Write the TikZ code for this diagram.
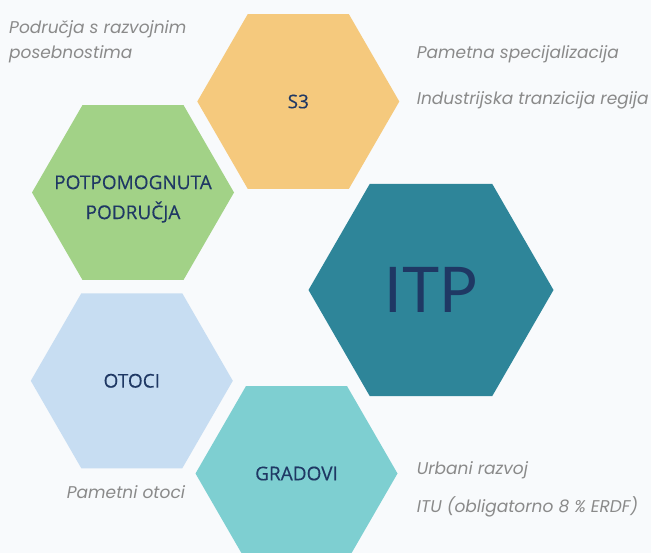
\documentclass[tikz,border=0pt]{standalone}
\usepackage{fontspec}
\setmainfont{Open Sans}
\newfontfamily\hexfont{Open Sans}[FakeBold=0.3]
\newfontfamily\notefont{Poppins}
\newfontfamily\itpfont{Lato}
\usetikzlibrary{shapes.geometric}
\definecolor{bgc}{HTML}{F8FAFC}
\definecolor{navy}{HTML}{1F3864}
\definecolor{greyc}{HTML}{8A8A8A}
\definecolor{s3c}{HTML}{F5C97D}
\definecolor{potc}{HTML}{A2D287}
\definecolor{itpc}{HTML}{2E8599}
\definecolor{otoc}{HTML}{C7DDF2}
\definecolor{gradc}{HTML}{7ECFD1}
\tikzset{
  hexa/.style ={regular polygon,regular polygon sides=6,inner sep=0pt,outer sep=0pt,
                minimum size=202pt,text=navy,align=center,
                font=\hexfont\fontsize{19}{30}\selectfont},
  hexlab/.style={inner sep=0pt,text=navy,align=center,font=\hexfont\fontsize{19}{30}\selectfont},
  note/.style ={anchor=base west,inner sep=0pt,text=greyc,align=left,
                font=\notefont\itshape\fontsize{17}{25}\selectfont},
}
\begin{document}
\begin{tikzpicture}[x=1pt,y=-1pt]
  \fill[bgc] (0,0) rectangle (651,553);
  \clip (0,0) rectangle (651,553);
  \node[hexa,fill=s3c]   (s3)   at (298.3,101.5) {S3};
  \node[hexa,fill=potc]  (pot)  at (133,192.5)   {};
  \node[hexlab] (potl) at (133,199) {POTPOMOGNUTA\\PODRUČJA};
  \node[hexa,fill=itpc,minimum size=245pt,font=\itpfont\fontsize{63}{63}\selectfont]
        (itp) at (431,290) {ITP};
  \node[hexa,fill=otoc]  (oto)  at (131.8,380.8) {OTOCI};
  \node[hexa,fill=gradc] (grad) at (296.5,473.5) {GRADOVI};
  \node[note] (n1) at (9,58.3)      {Područja s razvojnim\\posebnostima};
  \node[note] (n2) at (416.7,58.3)  {Pametna specijalizacija};
  \node[note] (n3) at (416.7,105)   {Industrijska tranzicija regija};
  \node[note] (n4) at (416.7,474.3) {Urbani razvoj};
  \node[note] (n5) at (416.7,512.3) {ITU (obligatorno 8 \% ERDF)};
  \node[note] (n6) at (66.7,498.3)  {Pametni otoci};
\end{tikzpicture}
\end{document}
